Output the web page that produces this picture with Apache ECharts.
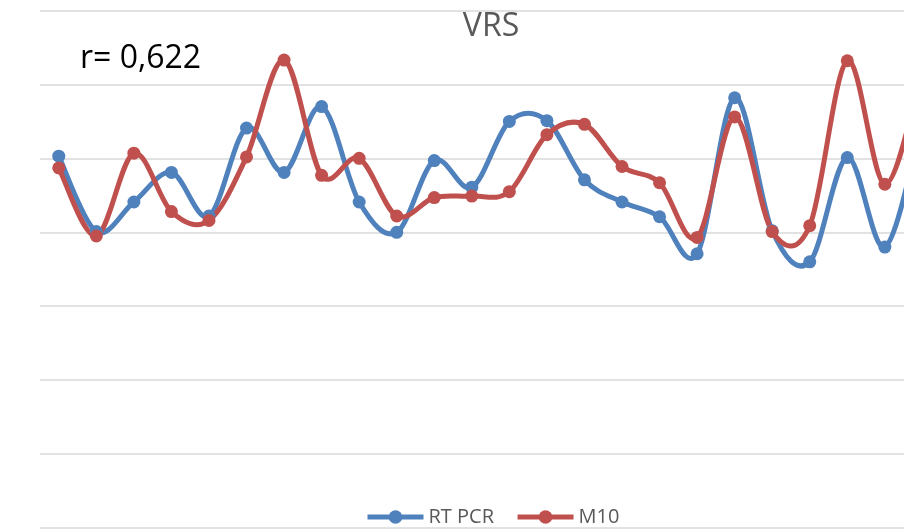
<!DOCTYPE html>
<html>
<head>
<meta charset="utf-8">
<script src="https://cdn.jsdelivr.net/npm/echarts@6/dist/echarts.min.js"></script>
<style>
html,body{margin:0;padding:0;background:#fff;}
#chart{width:904px;height:531px;}
</style>
</head>
<body>
<div id="chart"></div>
<script>
var categories = ['1','2','3','4','5','6','7','8','9','10','11','12','13','14','15','16','17','18','19','20','21','22','23','24'];
var rtPcr = [5.03, 4.01, 4.41, 4.81, 4.22, 5.41, 4.81, 5.70, 4.41, 4.00, 4.97, 4.61, 5.50, 5.51, 4.71, 4.41, 4.21, 3.71, 5.82, 4.02, 3.60, 5.01, 3.80, 5.52];
var m10 = [4.87, 3.95, 5.07, 4.28, 4.16, 5.02, 6.33, 4.77, 5.00, 4.22, 4.47, 4.49, 4.55, 5.32, 5.46, 4.89, 4.67, 3.93, 5.56, 4.01, 4.09, 6.32, 4.65, 6.19];
var seriesNames = ['RT PCR', 'M10'];
var seriesColors = ['#4F81BD', '#C0504D'];
var titleText = 'VRS';
var noteText = 'r= 0,622';

function pairs(vals) {
  return vals.map(function (v, i) { return [i, v]; });
}

// Excel-like smoothed curve (Catmull-Rom Bezier) drawn through the chart's scales
function curveSeries(name, vals, color) {
  return {
    type: 'custom', name: name + ' curve', silent: true, clip: false,
    data: [[0, vals[0]]],
    renderItem: function (params, api) {
      var p = vals.map(function (v, i) { return api.coord([i, v]); });
      var n = p.length;
      var d = 'M' + p[0][0] + ' ' + p[0][1];
      for (var i = 0; i < n - 1; i++) {
        var p0 = p[i > 0 ? i - 1 : i], p1 = p[i], p2 = p[i + 1], p3 = p[i + 2 < n ? i + 2 : i + 1];
        var c1x = p1[0] + (p2[0] - p0[0]) / 6, c1y = p1[1] + (p2[1] - p0[1]) / 6;
        var c2x = p2[0] - (p3[0] - p1[0]) / 6, c2y = p2[1] - (p3[1] - p1[1]) / 6;
        d += ' C' + c1x + ' ' + c1y + ' ' + c2x + ' ' + c2y + ' ' + p2[0] + ' ' + p2[1];
      }
      return {
        type: 'path',
        shape: {pathData: d},
        style: {fill: 'none', stroke: color, lineWidth: 5, lineJoin: 'round', lineCap: 'round'}
      };
    }
  };
}

function markerSeries(name, vals, color) {
  return {
    name: name, type: 'line', data: pairs(vals), clip: false,
    symbol: 'circle', symbolSize: 13,
    lineStyle: {color: color, width: 5, opacity: 0},
    itemStyle: {color: color}
  };
}

var chart = echarts.init(document.getElementById('chart'), null, {renderer: 'canvas'});
var font = '"Open Sans", "Noto Sans", sans-serif';
chart.setOption({
  animation: false,
  backgroundColor: '#ffffff',
  title: {
    text: titleText,
    left: 486, top: 6,
    textAlign: 'center',
    textStyle: {fontFamily: font, fontSize: 32, fontWeight: 'normal', color: '#595959'}
  },
  graphic: [{
    type: 'text', left: 80, top: 43,
    style: {text: noteText, font: '32px ' + font, fill: '#000000'}
  }],
  legend: {
    data: seriesNames,
    left: 365, top: 507, padding: 0,
    itemWidth: 56, itemHeight: 17, itemGap: 21,
    lineStyle: {width: 5, opacity: 1},
    textStyle: {fontFamily: font, fontSize: 20, color: '#595959'}
  },
  grid: {left: 40, top: 10.5, right: 0, height: 517.5},
  xAxis: {
    type: 'value', min: -0.5, max: 22.51,
    axisLine: {show: false}, axisTick: {show: false}, axisLabel: {show: false},
    splitLine: {show: false}
  },
  yAxis: {
    type: 'value', min: 0, max: 7, interval: 1,
    axisLine: {show: false}, axisTick: {show: false}, axisLabel: {show: false},
    splitLine: {lineStyle: {color: '#d9d9d9', width: 1.5}}
  },
  series: [
    curveSeries(seriesNames[0], rtPcr, seriesColors[0]),
    markerSeries(seriesNames[0], rtPcr, seriesColors[0]),
    curveSeries(seriesNames[1], m10, seriesColors[1]),
    markerSeries(seriesNames[1], m10, seriesColors[1])
  ]
});
</script>
</body>
</html>
